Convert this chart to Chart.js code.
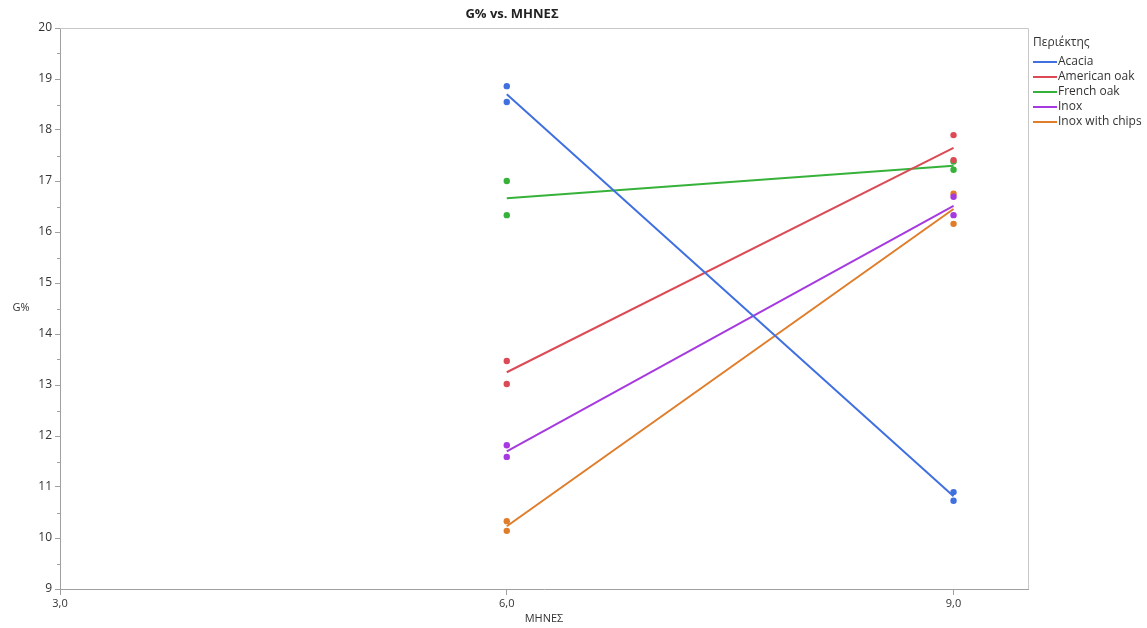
<!DOCTYPE html>
<html>
<head>
<meta charset="utf-8">
<script src="https://cdn.jsdelivr.net/npm/chart.js@4.4.1/dist/chart.umd.min.js"></script>
<style>
  html, body { margin: 0; padding: 0; background: #fff; }
  #wrap { width: 1147px; height: 628px; }
</style>
</head>
<body>
<div id="wrap"><canvas id="chart"></canvas></div>
<script>
// data
const groups = ["Acacia", "American oak", "French oak", "Inox", "Inox with chips"];
const colors = ['#4070e0', '#dc4a55', '#36b23a', '#a63ae0', '#e07d2a'];
const months = [6, 9];
// two measurements per month for each group
const at6 = [[18.86, 18.55], [13.47, 13.02], [17.00, 16.33], [11.82, 11.59], [10.33, 10.14]];
const at9 = [[10.90, 10.73], [17.90, 17.41], [17.38, 17.22], [16.69, 16.33], [16.75, 16.16]];
// fitted line ends (at 6 and at 9)
const fitLine = [[18.70, 10.82], [13.25, 17.65], [16.66, 17.30], [11.70, 16.51], [10.23, 16.45]];
const xTicks = [3, 6, 9];
const yTicks = [9, 10, 11, 12, 13, 14, 15, 16, 17, 18, 19, 20];

const FONT = '"Open Sans", "Noto Sans", sans-serif';

const datasets = [];
groups.forEach((g, i) => {
  datasets.push({
    type: 'line',
    label: g,
    data: months.map((m, k) => ({ x: m, y: fitLine[i][k] })),
    borderColor: colors[i],
    backgroundColor: colors[i],
    borderWidth: 2,
    pointRadius: 0,
    fill: false,
    order: 2
  });
});
groups.forEach((g, i) => {
  const pts = [];
  at6[i].forEach(v => pts.push({ x: months[0], y: v }));
  at9[i].forEach(v => pts.push({ x: months[1], y: v }));
  datasets.push({
    type: 'scatter',
    label: g + ' pts',
    data: pts,
    borderColor: colors[i],
    backgroundColor: colors[i],
    pointRadius: 3.2,
    pointBorderWidth: 0,
    order: 1
  });
});

// frame, minor ticks, title, axis titles, legend
const extras = {
  id: 'extras',
  afterDraw(chart) {
    const c = chart.ctx, a = chart.chartArea;
    const ys = chart.scales.y;
    c.save();
    c.strokeStyle = '#c8c8c8';
    c.lineWidth = 1;
    c.beginPath();
    c.moveTo(a.left, a.top + 0.5); c.lineTo(a.right + 0.5, a.top + 0.5);
    c.lineTo(a.right + 0.5, a.bottom);
    c.stroke();
    // minor ticks on y
    c.strokeStyle = '#a0a0a0';
    c.beginPath();
    for (let v = 9.5; v < 20; v += 1) {
      const py = Math.round(ys.getPixelForValue(v)) + 0.5;
      c.moveTo(a.left - 3, py); c.lineTo(a.left, py);
    }
    c.stroke();
    // title
    c.fillStyle = '#222';
    c.font = 'bold 13px ' + FONT;
    c.textAlign = 'center';
    c.textBaseline = 'middle';
    c.fillText('G% vs. ΜΗΝΕΣ', 512, 14);
    // axis titles
    c.font = '11px ' + FONT;
    c.fillStyle = '#333';
    c.fillText('G%', 21, 308);
    c.fillText('ΜΗΝΕΣ', (a.left + a.right) / 2, 619);
    // legend
    const lx = a.right + 5;
    c.textAlign = 'left';
    c.fillStyle = '#333';
    c.font = '12px ' + FONT;
    c.fillText('Περιέκτης', lx, 43);
    chart.data.datasets.filter(d => d.type === 'line').forEach((d, i) => {
      const y = 62 + i * 15;
      c.strokeStyle = d.borderColor;
      c.lineWidth = 2;
      c.beginPath();
      c.moveTo(lx, y); c.lineTo(lx + 24, y);
      c.stroke();
      c.fillStyle = '#333';
      c.fillText(d.label, lx + 25, y);
    });
    c.restore();
  }
};

new Chart(document.getElementById('chart'), {
  data: { datasets: datasets },
  options: {
    responsive: true,
    maintainAspectRatio: false,
    animation: false,
    layout: { padding: { top: 28, right: 119, left: 0, bottom: 0 } },
    plugins: { legend: { display: false }, title: { display: false }, tooltip: { enabled: false } },
    scales: {
      x: {
        type: 'linear',
        min: 3, max: 9.5,
        afterBuildTicks: s => { s.ticks = xTicks.map(v => ({ value: v })); },
        afterFit: s => { s.height = 39; },
        grid: { display: true, drawOnChartArea: false, drawTicks: true, tickLength: 6, color: '#a0a0a0' },
        border: { color: '#a0a0a0' },
        ticks: {
          padding: 2,
          color: '#333',
          font: { family: FONT, size: 11 },
          maxRotation: 0,
          callback: v => v.toFixed(1).replace('.', ',')
        }
      },
      y: {
        type: 'linear',
        min: 9, max: 20,
        afterBuildTicks: s => { s.ticks = yTicks.map(v => ({ value: v })); },
        afterFit: s => { s.width = 60; },
        grid: { display: true, drawOnChartArea: false, drawTicks: true, tickLength: 5, color: '#a0a0a0' },
        border: { color: '#a0a0a0' },
        ticks: {
          padding: 3,
          color: '#333',
          font: { family: FONT, size: 12 }
        }
      }
    }
  },
  plugins: [extras]
});
</script>
</body>
</html>
